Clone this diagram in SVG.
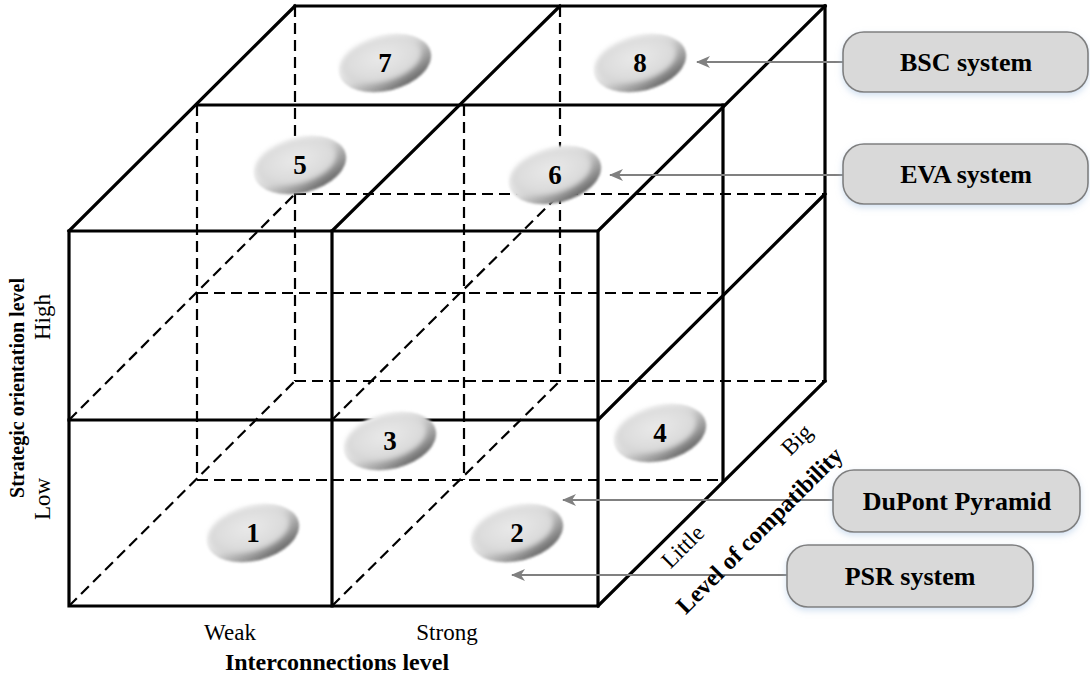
<svg xmlns="http://www.w3.org/2000/svg" xmlns:xlink="http://www.w3.org/1999/xlink" width="1090" height="680" viewBox="0 0 1090 680">
  <style>
    .s { stroke: #000; stroke-width: 3.2; fill: none; stroke-linecap: square; }
    .d { stroke: #000; stroke-width: 2.2; fill: none; stroke-dasharray: 11 6; }
    .num { font-family: "Liberation Serif", "Times New Roman", serif; font-weight: bold; font-size: 27px; text-anchor: middle; fill: #000; }
    .box { fill: #d9d9d9; stroke: #7f7f7f; stroke-width: 1.6; filter: url(#boxShadow); }
    .boxText { font-family: "Liberation Serif", "Times New Roman", serif; font-weight: bold; font-size: 26px; text-anchor: middle; fill: #000; }
    .axis { font-family: "Liberation Serif", "Times New Roman", serif; font-size: 23px; fill: #000; text-anchor: middle; }
    .axisTitle { font-family: "Liberation Serif", "Times New Roman", serif; font-weight: bold; font-size: 24px; fill: #000; text-anchor: middle; }
    .arrow { stroke: #808080; stroke-width: 2; fill: none; marker-end: url(#stealth); }
  </style>
  <defs>
    <!-- side of the disc: bright upper-left rim, dark lower-right rim -->
    <linearGradient id="pillSide" x1="0.2" y1="0.1" x2="0.75" y2="1">
      <stop offset="0" stop-color="#ffffff"/>
      <stop offset="0.45" stop-color="#d6d6d6"/>
      <stop offset="0.75" stop-color="#9a9a9a"/>
      <stop offset="1" stop-color="#5e5e5e"/>
    </linearGradient>
    <!-- top face of the disc -->
    <radialGradient id="pillFace" cx="0.5" cy="0.45" r="0.6">
      <stop offset="0" stop-color="#e9e9e9"/>
      <stop offset="0.7" stop-color="#dcdcdc"/>
      <stop offset="1" stop-color="#cdcdcd"/>
    </radialGradient>
    <filter id="blurEdge" x="-20%" y="-20%" width="140%" height="140%">
      <feGaussianBlur stdDeviation="1.2"/>
    </filter>
    <filter id="blurFace" x="-20%" y="-20%" width="140%" height="140%">
      <feGaussianBlur stdDeviation="2.5"/>
    </filter>
    <filter id="boxShadow" x="-10%" y="-20%" width="120%" height="150%">
      <feDropShadow dx="0" dy="3" stdDeviation="3" flood-color="#a9c4e4" flood-opacity="0.5"/>
    </filter>
    <!-- glossy disc used for every numbered cell -->
    <g id="pill">
      <ellipse rx="47" ry="28" fill="url(#pillSide)" filter="url(#blurEdge)" transform="rotate(-14)"/>
      <ellipse cx="-3" cy="-4" rx="41" ry="22" fill="url(#pillFace)" filter="url(#blurFace)" transform="rotate(-14)"/>
    </g>
    <marker id="stealth" viewBox="0 0 14 12" refX="13" refY="6" markerWidth="14" markerHeight="12" markerUnits="userSpaceOnUse" orient="auto">
      <path d="M0,0 L14,6 L0,12 L4,6 Z" fill="#808080"/>
    </marker>
  </defs>

  <rect width="1090" height="680" fill="#ffffff"/>

  <!-- cube frame -->
  <g id="cube">
    <!-- hidden edges -->
    <path class="d" d="M295,6 V381 M560,6 V381 M197,105 V480 M464,105 V480"/>
    <path class="d" d="M295,194 H825 M197,293 H723 M295,381 H825 M197,480 H723"/>
    <path class="d" d="M69,420 L295,194 M332,420 L560,194 M69,606 L295,381 M332,606 L560,381"/>
    <!-- visible edges -->
    <path class="s" d="M69,231 H598 V606 H69 Z"/>
    <path class="s" d="M332,231 V606 M69,420 H598"/>
    <path class="s" d="M69,231 L295,6 M332,231 L560,6 M598,231 L825,6"/>
    <path class="s" d="M295,6 H825 M197,105 H723"/>
    <path class="s" d="M825,6 V381 M723,105 V480"/>
    <path class="s" d="M598,420 L825,194 M598,606 L825,381"/>
  </g>

  <!-- numbered cells -->
  <g id="node-7"><use xlink:href="#pill" href="#pill" transform="translate(385,63)"/><text class="num" x="385" y="72">7</text></g>
  <g id="node-8"><use xlink:href="#pill" href="#pill" transform="translate(640,63)"/><text class="num" x="640" y="72">8</text></g>
  <g id="node-5"><use xlink:href="#pill" href="#pill" transform="translate(300,165)"/><text class="num" x="300" y="174">5</text></g>
  <g id="node-6"><use xlink:href="#pill" href="#pill" transform="translate(555,175)"/><text class="num" x="555" y="184">6</text></g>
  <g id="node-3"><use xlink:href="#pill" href="#pill" transform="translate(390,441)"/><text class="num" x="390" y="450">3</text></g>
  <g id="node-4"><use xlink:href="#pill" href="#pill" transform="translate(660,433)"/><text class="num" x="660" y="442">4</text></g>
  <g id="node-1"><use xlink:href="#pill" href="#pill" transform="translate(253,533)"/><text class="num" x="253" y="542">1</text></g>
  <g id="node-2"><use xlink:href="#pill" href="#pill" transform="translate(517,533)"/><text class="num" x="517" y="542">2</text></g>

  <!-- pointers from system labels -->
  <g id="connectors">
    <line class="arrow" x1="843" y1="62" x2="697" y2="62"/>
    <line class="arrow" x1="843" y1="175" x2="610" y2="175"/>
    <line class="arrow" x1="833" y1="500" x2="563" y2="500"/>
    <line class="arrow" x1="787" y1="575" x2="512" y2="575"/>
  </g>

  <!-- system labels -->
  <g id="label-bsc">
    <rect class="box" x="843" y="32" width="245" height="60" rx="21"/>
    <text class="boxText" x="966" y="71">BSC system</text>
  </g>
  <g id="label-eva">
    <rect class="box" x="843" y="144" width="245" height="60" rx="21"/>
    <text class="boxText" x="966" y="183">EVA system</text>
  </g>
  <g id="label-dupont">
    <rect class="box" x="833" y="470" width="247" height="62" rx="21"/>
    <text class="boxText" x="957" y="510">DuPont Pyramid</text>
  </g>
  <g id="label-psr">
    <rect class="box" x="787" y="545" width="246" height="62" rx="21"/>
    <text class="boxText" x="910" y="585">PSR system</text>
  </g>

  <!-- axis captions -->
  <g id="axis-x">
    <text class="axis" x="230" y="640">Weak</text>
    <text class="axis" x="447" y="640">Strong</text>
    <text class="axisTitle" x="337" y="670">Interconnections level</text>
  </g>
  <g id="axis-y">
    <text class="axisTitle" x="24" y="388" transform="rotate(-90 24 388)" style="font-size:20px">Strategic orientation level</text>
    <text class="axis" x="50" y="317" transform="rotate(-90 50 317)">High</text>
    <text class="axis" x="50" y="499" transform="rotate(-90 50 499)">Low</text>
  </g>
  <g id="axis-z">
    <text class="axis" x="802" y="445" transform="rotate(-45 802 445)">Big</text>
    <text class="axis" x="688" y="552" transform="rotate(-45 688 552)">Little</text>
    <text class="axisTitle" x="765" y="536" transform="rotate(-45 765 536)">Level of compatibility</text>
  </g>
</svg>
